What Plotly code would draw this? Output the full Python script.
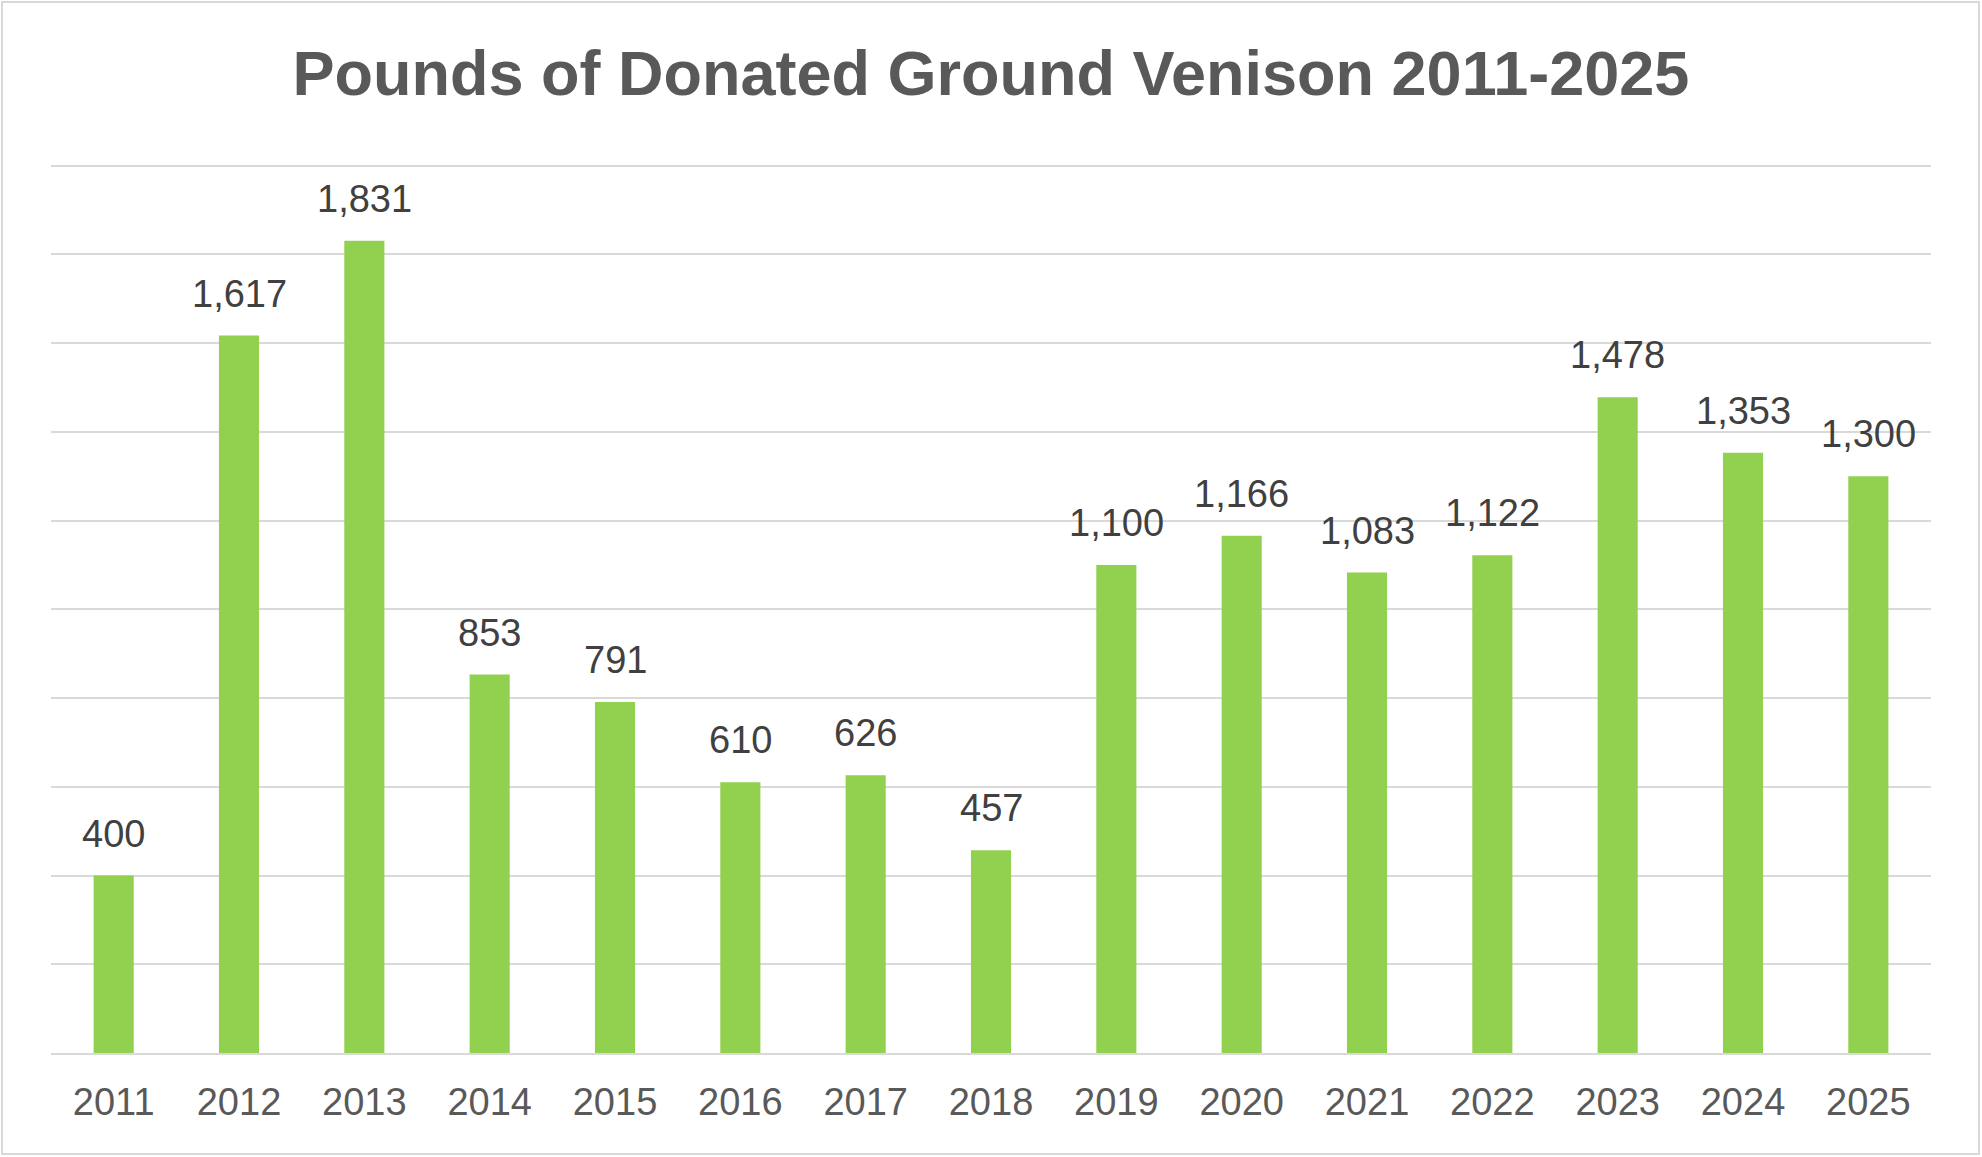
import plotly.graph_objects as go

years = ["2011", "2012", "2013", "2014", "2015", "2016", "2017", "2018",
         "2019", "2020", "2021", "2022", "2023", "2024", "2025"]
pounds = [400, 1617, 1831, 853, 791, 610, 626, 457,
          1100, 1166, 1083, 1122, 1478, 1353, 1300]
title_text = "Pounds of Donated Ground Venison 2011-2025"

W, H = 1982, 1157
ML, MR, MT, MB = 51, 51, 163, 104
PW, PH = W - ML - MR, H - MT - MB

fig = go.Figure()
fig.add_trace(go.Bar(
    x=years, y=pounds,
    marker=dict(color="#92D050", line=dict(width=0)),
    hoverinfo="x+y",
))

# data labels: on a category axis, annotation x is the category index
for i, v in enumerate(pounds):
    fig.add_annotation(
        x=i, y=v, text=f"{v:,}", showarrow=False,
        yanchor="middle", yshift=42,
        font=dict(family="Liberation Sans, Arial, sans-serif", size=38, color="#404040"),
    )

# outer frame
fig.add_shape(
    type="rect", xref="paper", yref="paper",
    x0=(2 - ML) / PW, x1=(W - 3 - ML) / PW,
    y0=(PH + MT - (H - 3)) / PH, y1=(PH + MT - 2) / PH,
    line=dict(color="#D9D9D9", width=2), fillcolor="rgba(0,0,0,0)", layer="below",
)

fig.update_layout(
    width=W, height=H,
    margin=dict(l=ML, r=MR, t=MT, b=MB),
    paper_bgcolor="white", plot_bgcolor="white",
    showlegend=False,
    bargap=0.68,
    title=dict(
        text=title_text, x=0.5, xref="paper", xanchor="center",
        y=1 - 73 / H, yref="container", yanchor="middle",
        font=dict(family="Liberation Sans, Arial, sans-serif", size=63, color="#595959",
                  weight="bold"),
    ),
    font=dict(family="Liberation Sans, Arial, sans-serif", color="#595959"),
)
fig.update_xaxes(
    type="category", range=[-0.5, len(years) - 0.5],
    showline=True, linecolor="#D9D9D9", linewidth=2,
    ticks="", showgrid=False,
    tickfont=dict(size=38, color="#595959"),
    ticklabelstandoff=14,
)
fig.update_yaxes(
    range=[0, 2006], dtick=200,
    showgrid=True, gridcolor="#D9D9D9", gridwidth=2,
    showticklabels=False, zeroline=False, ticks="",
)

fig.write_html("out.html", config={"displayModeBar": False},
               post_script="document.body.style.margin='0';document.body.style.overflow='hidden';")
